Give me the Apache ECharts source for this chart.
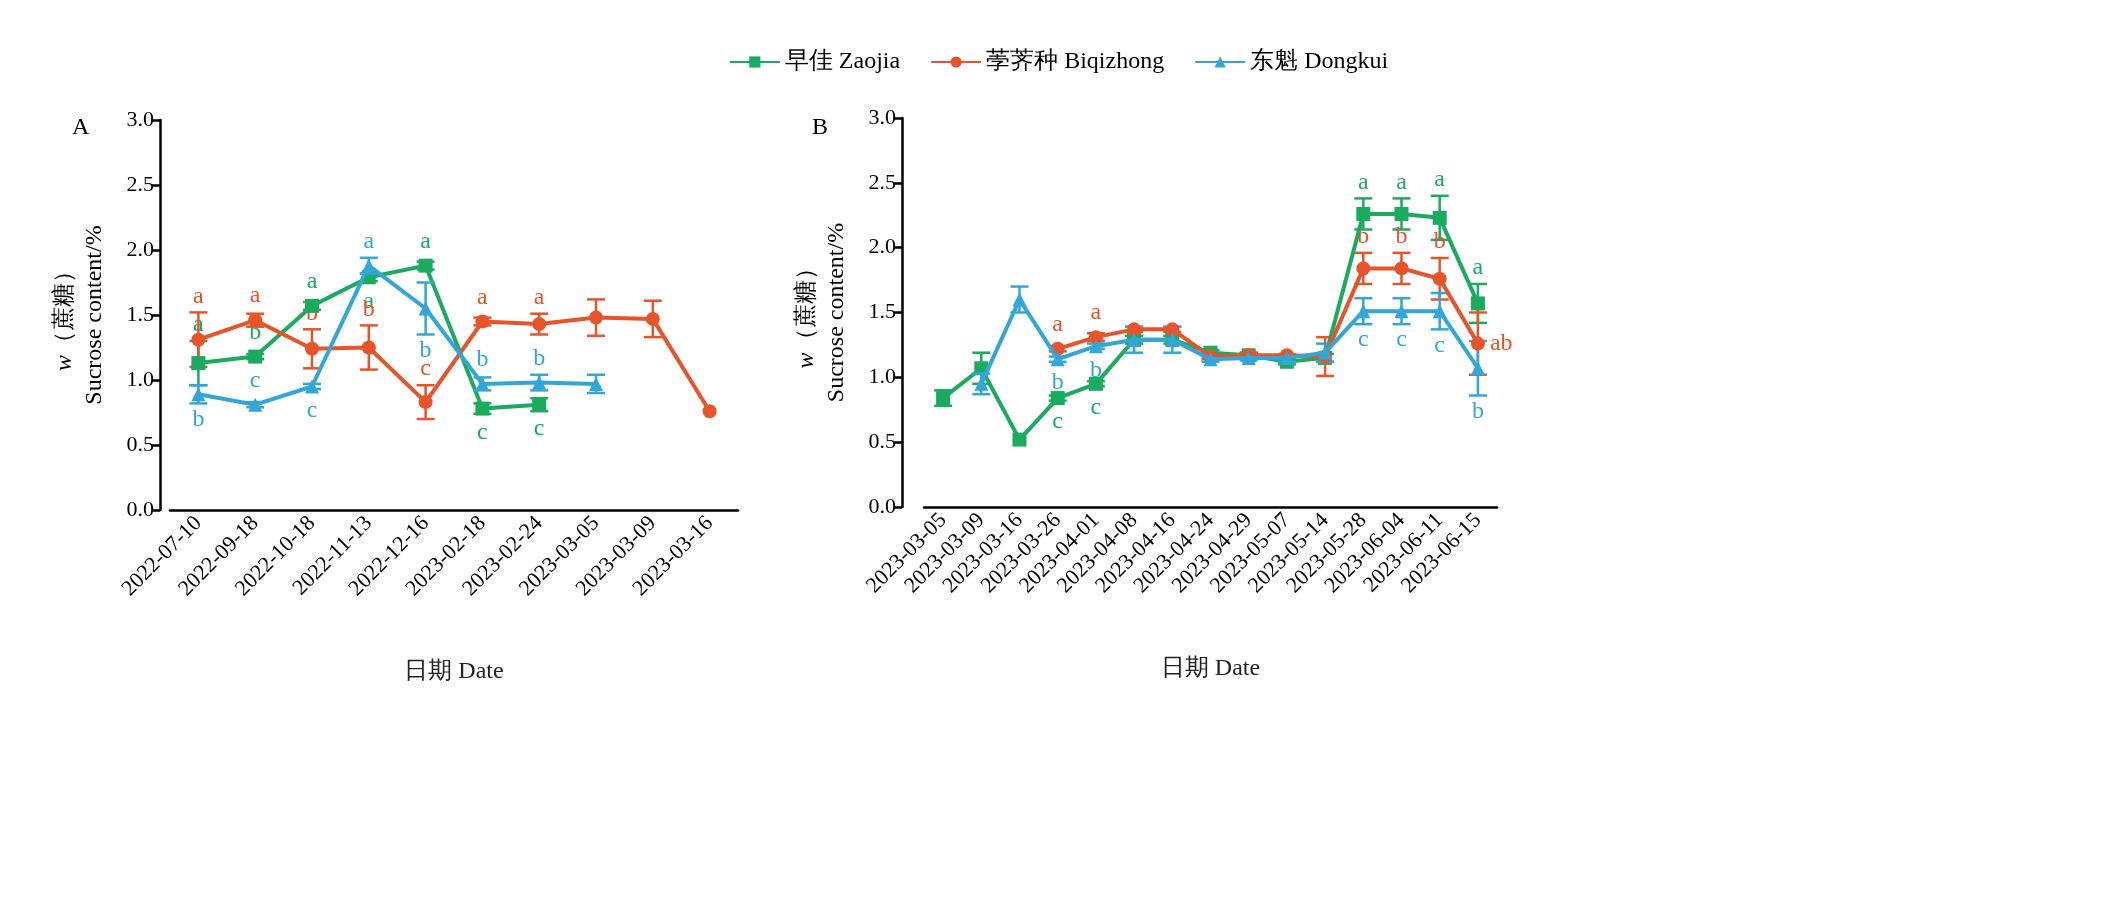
<!DOCTYPE html>
<html><head><meta charset="utf-8">
<script src="https://cdn.jsdelivr.net/npm/echarts@6/dist/echarts.min.js"></script>
<style>html,body{margin:0;background:#fff}#c{width:2117px;height:915px}</style>
</head><body><div id="c"></div>
<script>
// Panel A
var datesA = ['2022-07-10','2022-09-18','2022-10-18','2022-11-13','2022-12-16','2023-02-18','2023-02-24','2023-03-05','2023-03-09','2023-03-16'];
var zaoA = [1.13,1.18,1.57,1.79,1.88,0.78,0.81,null,null,null];
var zaoAErr = [0.17,0.02,0.03,0.03,0.03,0.04,0.05,0,0,0];
var zaoALet = ['a','b','a','a','a','c','c','','',''];
var zaoAPos = ['t','t','t','b','t','b','b','','',''];
var biqA = [1.31,1.46,1.24,1.25,0.83,1.45,1.43,1.48,1.47,0.76];
var biqAErr = [0.21,0.05,0.15,0.17,0.13,0.03,0.08,0.14,0.14,0.01];
var biqALet = ['a','a','b','b','c','a','a','','',''];
var biqAPos = ['t','t','t','t','t','t','t','','',''];
var dongA = [0.89,0.81,0.95,1.88,1.55,0.97,0.98,0.97,null,null];
var dongAErr = [0.07,0.02,0.02,0.06,0.2,0.05,0.06,0.07,0,0];
var dongALet = ['b','c','c','a','b','b','b','','',''];
var dongAPos = ['b','t','b','t','b','t','t','','',''];
// Panel B
var datesB = ['2023-03-05','2023-03-09','2023-03-16','2023-03-26','2023-04-01','2023-04-08','2023-04-16','2023-04-24','2023-04-29','2023-05-07','2023-05-14','2023-05-28','2023-06-04','2023-06-11','2023-06-15'];
var zaoB = [0.84,1.07,0.52,0.84,0.95,1.29,1.29,1.19,1.17,1.12,1.15,2.26,2.26,2.23,1.57];
var zaoBErr = [0.06,0.12,0.01,0.02,0.02,0.03,0.03,0.02,0.02,0.02,0.03,0.12,0.12,0.17,0.15];
var zaoBLet = ['','','','c','c','','','','','','','a','a','a','a'];
var zaoBPos = ['','','','b','b','','','','','','','t','t','t','t'];
var biqB = [null,null,null,1.22,1.31,1.37,1.37,1.16,1.17,1.17,1.16,1.84,1.84,1.76,1.26];
var biqBErr = [0,0,0,0.02,0.03,0.02,0.02,0.02,0.02,0.01,0.15,0.12,0.12,0.16,0.24];
var biqBLet = ['','','','a','a','','','','','','','b','b','b','ab'];
var biqBPos = ['','','','t','t','','','','','','','t','t','t','r'];
var dongB = [null,0.95,1.6,1.14,1.24,1.29,1.29,1.14,1.15,1.15,1.19,1.51,1.51,1.51,1.07];
var dongBErr = [0,0.08,0.1,0.02,0.02,0.1,0.1,0.02,0.02,0.03,0.07,0.1,0.1,0.14,0.21];
var dongBLet = ['','','','b','b','','','','','','','c','c','c','b'];
var dongBPos = ['','','','b','b','','','','','','','b','b','b','b'];

var names = ['早佳 Zaojia','荸荠种 Biqizhong','东魁 Dongkui'];
var colors = ['#1aab5f','#e8542a','#33a6d9'];
var symbols = ['rect','circle','triangle'];
var FONT = 'Liberation Serif';

var chart = echarts.init(document.getElementById('c'));

function lineSeries(i, data, g) {
  return {
    name: names[i], type: 'line', xAxisIndex: g, yAxisIndex: g, data: data,
    symbol: symbols[i], symbolSize: 14, connectNulls: false, z: 3 + i,
    itemStyle: { color: colors[i] }, lineStyle: { width: 4, color: colors[i] }
  };
}
function errSeries(i, data, err, lets, pos, g) {
  var items = data.map(function (v, k) { return [k, v, err[k], lets[k], pos[k]]; })
    .filter(function (d) { return d[1] != null; });
  return {
    type: 'custom', xAxisIndex: g, yAxisIndex: g, z: 2 + i, data: items,
    renderItem: function (params, api) {
      var x = api.value(0), y = api.value(1), e = api.value(2);
      var pHi = api.coord([x, y + e]), pLo = api.coord([x, y - e]);
      var w = 9, st = { stroke: colors[i], lineWidth: 2.5 };
      var ch = [];
      if (e > 0.015) {
        ch.push({ type: 'line', shape: { x1: pHi[0], y1: pHi[1], x2: pLo[0], y2: pLo[1] }, style: st });
        ch.push({ type: 'line', shape: { x1: pHi[0] - w, y1: pHi[1], x2: pHi[0] + w, y2: pHi[1] }, style: st });
        ch.push({ type: 'line', shape: { x1: pLo[0] - w, y1: pLo[1], x2: pLo[0] + w, y2: pLo[1] }, style: st });
      }
      var letter = items[params.dataIndex][3], p = items[params.dataIndex][4];
      if (letter) {
        var c = api.coord([x, y]);
        var tx = c[0], ty, va = 'bottom', ta = 'center';
        if (p === 't') { ty = Math.min(pHi[1], c[1] - 8) - 4; }
        else if (p === 'b') { ty = Math.max(pLo[1], c[1] + 8) + 4; va = 'top'; }
        else { tx = c[0] + 12; ty = c[1]; va = 'middle'; ta = 'left'; }
        ch.push({ type: 'text', x: tx, y: ty, style: { text: letter, fill: colors[i], font: '24px ' + FONT, align: ta, verticalAlign: va } });
      }
      return { type: 'group', children: ch };
    }
  };
}

function xAx(g, cats) {
  return {
    type: 'category', gridIndex: g, data: cats, boundaryGap: true,
    name: '日期 Date', nameLocation: 'middle', nameGap: 150,
    nameTextStyle: { fontFamily: FONT, fontSize: 24, color: '#222' },
    axisLine: { lineStyle: { color: '#000', width: 2.5 } },
    axisTick: { alignWithLabel: true, length: 8, lineStyle: { width: 2.5, color: '#000' } },
    axisLabel: { rotate: 45, interval: 0, fontFamily: FONT, fontSize: 22, color: '#000', margin: 10 }
  };
}
function yAx(g, off) {
  return {
    type: 'value', gridIndex: g, min: 0, max: 3, interval: 0.5, offset: off,
    name: '{i|w}{n|（蔗糖）}\n{n|Sucrose content/%}', nameLocation: 'middle', nameGap: 50,
    nameTextStyle: { rich: { i: { fontStyle: 'italic', fontFamily: FONT, fontSize: 24 }, n: { fontFamily: FONT, fontSize: 24, lineHeight: 30 } }, color: '#000' },
    axisLine: { show: true, lineStyle: { color: '#000', width: 2.5 } },
    axisTick: { show: true, length: 8, lineStyle: { width: 2.5, color: '#000' } },
    splitLine: { show: false },
    axisLabel: { fontFamily: FONT, fontSize: 22, color: '#000', margin: 6, formatter: function (v) { return v.toFixed(1); } }
  };
}

var series = [];
[[zaoA, zaoAErr, zaoALet, zaoAPos], [biqA, biqAErr, biqALet, biqAPos], [dongA, dongAErr, dongALet, dongAPos]].forEach(function (s, i) {
  series.push(errSeries(i, s[0], s[1], s[2], s[3], 0));
  series.push(lineSeries(i, s[0], 0));
});
[[zaoB, zaoBErr, zaoBLet, zaoBPos], [biqB, biqBErr, biqBLet, biqBPos], [dongB, dongBErr, dongBLet, dongBPos]].forEach(function (s, i) {
  series.push(errSeries(i, s[0], s[1], s[2], s[3], 1));
  series.push(lineSeries(i, s[0], 1));
});

chart.setOption({
  animation: false,
  legend: {
    data: names, top: 45, left: 'center', itemWidth: 50, itemHeight: 14, itemGap: 30,
    textStyle: { fontFamily: FONT, fontSize: 24, color: '#000' }
  },
  graphic: [
    { type: 'text', left: 72, top: 116, style: { text: 'A', font: '24px ' + FONT, fill: '#000' } },
    { type: 'text', left: 812, top: 116, style: { text: 'B', font: '24px ' + FONT, fill: '#000' } }
  ],
  grid: [
    { left: 170, right: 1379, top: 120, bottom: 405 },
    { left: 924, right: 620, top: 118, bottom: 408 }
  ],
  xAxis: [xAx(0, datesA), xAx(1, datesB)],
  yAxis: [yAx(0, 10), yAx(1, 22)],
  series: series
});
</script></body></html>
